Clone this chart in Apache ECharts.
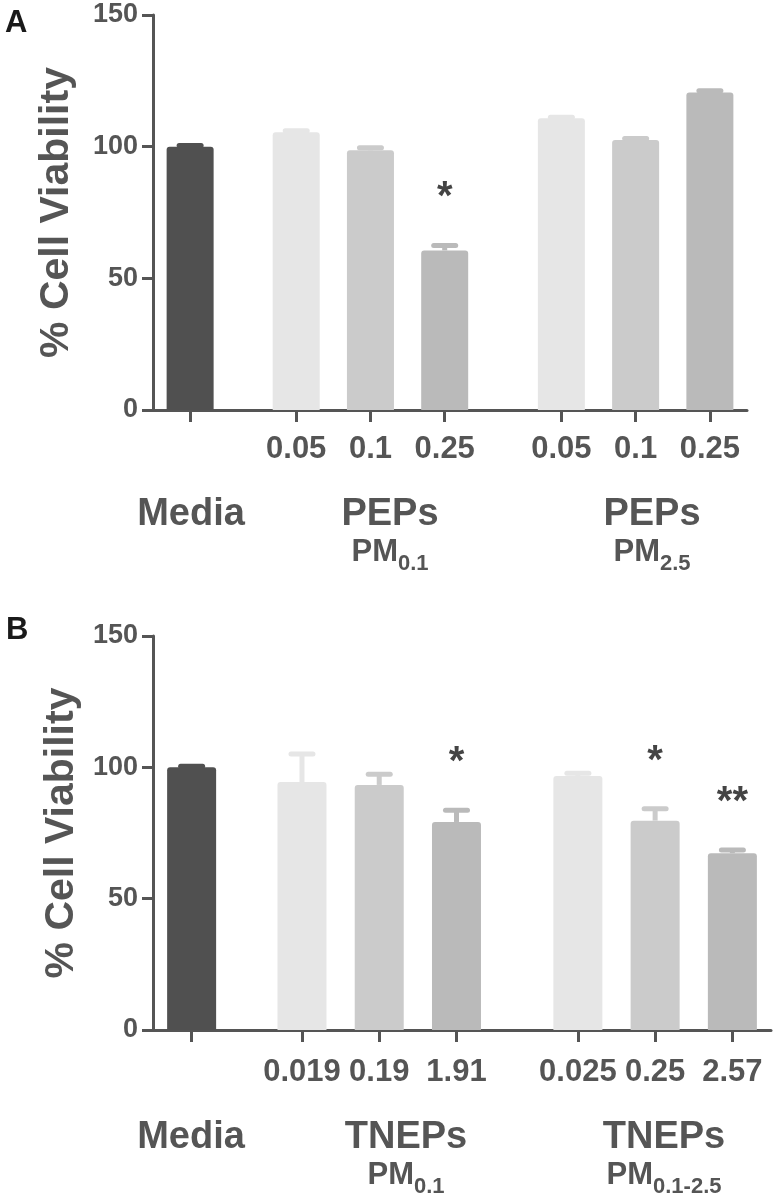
<!DOCTYPE html>
<html><head><meta charset="utf-8">
<script src="https://cdn.jsdelivr.net/npm/echarts@6/dist/echarts.min.js"></script>
<style>html,body{margin:0;padding:0;background:#fff}#chart{width:777px;height:1199px}</style>
</head><body><div id="chart"></div>
<script>
// ---------- data ----------
const doseLabelsA = ['', '0.05', '0.1', '0.25', '0.05', '0.1', '0.25'];
const valuesA = [100, 105.5, 98.6, 60.6, 110.8, 102.5, 120.6];
const errorsA = [0.4, 0.5, 1.0, 1.9, 0.4, 0.6, 0.6];
const sigA = ['', '', '', '*', '', '', ''];
const groupNamesA = ['Media', 'PEPs', 'PEPs'];
const groupSubsA = ['', '0.1', '2.5'];

const doseLabelsB = ['', '0.019', '0.19', '1.91', '0.025', '0.25', '2.57'];
const valuesB = [100, 94.4, 93.3, 79.2, 96.7, 79.7, 67.3];
const errorsB = [0.4, 10.7, 4.1, 4.5, 1.0, 4.5, 1.2];
const sigB = ['', '', '', '*', '', '*', '**'];
const groupNamesB = ['Media', 'TNEPs', 'TNEPs'];
const groupSubsB = ['', '0.1', '0.1-2.5'];

const yTicks = [0, 50, 100, 150];
const yTitle = '% Cell Viability';
const panelLetters = ['A', 'B'];

// ---------- layout / style ----------
const FONT = "'Liberation Sans', Arial, Helvetica, sans-serif";
const TXT = '#555555';
const SLOTS = [3, 13, 20, 27, 38, 45, 52];
const NSLOTS = 56;
const barColors = ['#505050', '#e6e6e6', '#cbcbcb', '#bababa', '#e6e6e6', '#cbcbcb', '#bababa'];
const cats = Array.from({length: NSLOTS}, (_, i) => 's' + i);
const slotSet = new Set(SLOTS);

function labelMap(doses) {
  const m = {};
  SLOTS.forEach((s, k) => { m[s] = doses[k]; });
  return m;
}
function barData(values) {
  const arr = Array(NSLOTS).fill('-');
  SLOTS.forEach((s, k) => { arr[s] = {value: values[k], itemStyle: {color: barColors[k]}}; });
  return arr;
}
function errData(values, errors) {
  return SLOTS.map((s, k) => [s, values[k], values[k] + errors[k]]);
}
function makeRender(sigs) {
  return function (params, api) {
    const x = api.value(0);
    const top = api.coord([x, api.value(2)]);
    const base = api.coord([x, api.value(1)]);
    const color = barColors[params.dataIndex];
    const sig = sigs[params.dataIndex];
    const children = [
      {type: 'line', shape: {x1: top[0], y1: base[1], x2: top[0], y2: top[1]},
       style: {stroke: color, lineWidth: 5}},
      {type: 'line', shape: {x1: top[0] - 11, y1: top[1], x2: top[0] + 11, y2: top[1]},
       style: {stroke: color, lineWidth: 5, lineCap: 'round'}}
    ];
    if (sig) {
      children.push({type: 'text', style: {text: sig, x: top[0], y: top[1] - 47,
        align: 'center', verticalAlign: 'middle', font: 'bold 40px ' + FONT, fill: '#444444'}});
    }
    return {type: 'group', children: children};
  };
}

function xAxisCfg(gridIndex, doses, margin) {
  const lm = labelMap(doses);
  return {
    type: 'category', gridIndex: gridIndex, data: cats, boundaryGap: true,
    axisLine: {show: true, lineStyle: {color: TXT, width: 3}},
    axisTick: {show: true, alignWithLabel: true, length: 12,
      interval: (i) => slotSet.has(i), lineStyle: {color: TXT, width: 3}},
    axisLabel: {show: true, interval: (i) => slotSet.has(i),
      formatter: (v, i) => (lm[i] !== undefined ? lm[i] : ''),
      fontSize: 31, fontWeight: 'bold', color: TXT, fontFamily: FONT, margin: margin},
    splitLine: {show: false}
  };
}
function yAxisCfg(gridIndex, gap) {
  return {
    type: 'value', gridIndex: gridIndex, min: yTicks[0], max: yTicks[yTicks.length - 1],
    interval: yTicks[1] - yTicks[0],
    axisLine: {show: true, lineStyle: {color: TXT, width: 3}},
    axisTick: {show: true, length: 11, lineStyle: {color: TXT, width: 3}},
    axisLabel: {fontSize: 27, fontWeight: 'bold', color: TXT, fontFamily: FONT, margin: 15},
    splitLine: {show: false},
    name: yTitle, nameLocation: 'middle', nameGap: gap, nameRotate: 90,
    nameTextStyle: {fontSize: 41, fontWeight: 'bold', color: TXT, fontFamily: FONT}
  };
}

function groupGraphics(names, subs, xs, yMain, yPM) {
  const out = [];
  names.forEach((n, k) => {
    out.push({type: 'text', style: {text: n, x: xs[k], y: yMain, align: 'center', verticalAlign: 'middle',
      font: 'bold 38px ' + FONT, fill: TXT}});
    if (subs[k]) {
      out.push({type: 'text', style: {
        text: '{pm|PM}{sub|' + subs[k] + '}', x: xs[k], y: yPM, align: 'center', verticalAlign: 'top',
        fill: TXT, font: 'bold 31px ' + FONT,
        rich: {
          pm: {fontSize: 31, fontWeight: 'bold', fontFamily: FONT, lineHeight: 31, verticalAlign: 'top', fill: TXT},
          sub: {fontSize: 22, fontWeight: 'bold', fontFamily: FONT, lineHeight: 22, padding: [16, 0, 0, 0], verticalAlign: 'top', fill: TXT}
        }}});
    }
  });
  return out;
}

const chart = echarts.init(document.getElementById('chart'), null, {renderer: 'canvas'});
chart.setOption({
  animation: false,
  backgroundColor: '#ffffff',
  grid: [
    {left: 153, top: 15, width: 594, height: 395, outerBoundsMode: 'none'},
    {left: 153, top: 636, width: 618, height: 394, outerBoundsMode: 'none'}
  ],
  xAxis: [xAxisCfg(0, doseLabelsA, 24), xAxisCfg(1, doseLabelsB, 27)],
  yAxis: [yAxisCfg(0, 76), yAxisCfg(1, 66)],
  series: [
    {type: 'bar', xAxisIndex: 0, yAxisIndex: 0, data: barData(valuesA), barWidth: 47,
     itemStyle: {borderRadius: [3, 3, 0, 0]}, z: 2},
    {type: 'custom', xAxisIndex: 0, yAxisIndex: 0, data: errData(valuesA, errorsA),
     renderItem: makeRender(sigA), z: 3},
    {type: 'bar', xAxisIndex: 1, yAxisIndex: 1, data: barData(valuesB), barWidth: 49,
     itemStyle: {borderRadius: [3, 3, 0, 0]}, z: 2},
    {type: 'custom', xAxisIndex: 1, yAxisIndex: 1, data: errData(valuesB, errorsB),
     renderItem: makeRender(sigB), z: 3}
  ],
  graphic: [
    {type: 'text', style: {text: panelLetters[0], x: 5, y: 23, verticalAlign: 'middle', font: 'bold 31px ' + FONT, fill: '#1a1a1a'}},
    {type: 'text', style: {text: panelLetters[1], x: 6, y: 630, verticalAlign: 'middle', font: 'bold 31px ' + FONT, fill: '#1a1a1a'}}
  ].concat(
    groupGraphics(groupNamesA, groupSubsA, [191, 390, 652], 515, 537),
    groupGraphics(groupNamesB, groupSubsB, [191, 406, 664], 1138, 1160)
  )
});
</script>
</body></html>
